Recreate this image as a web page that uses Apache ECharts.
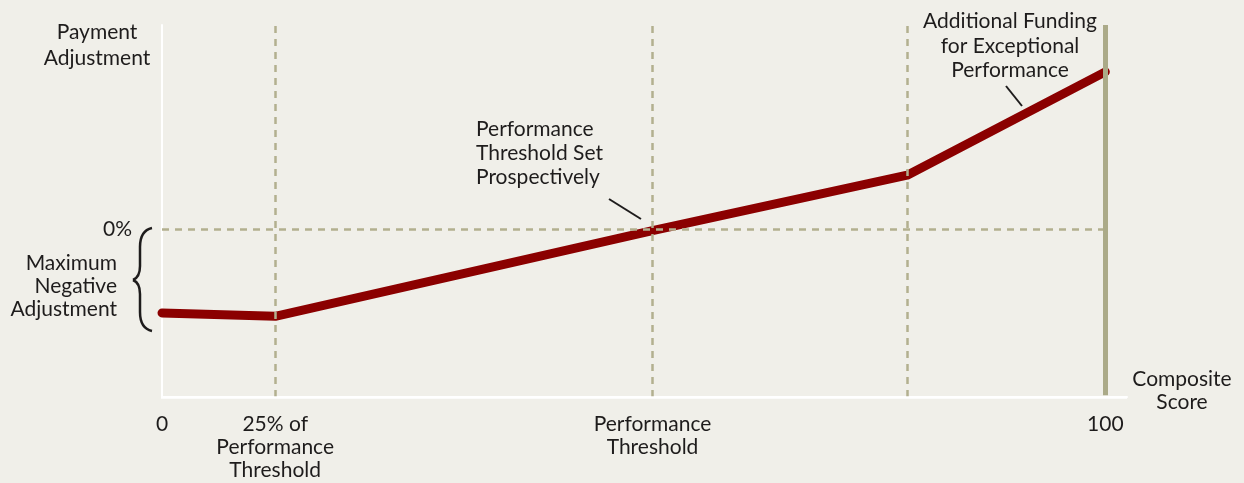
<!DOCTYPE html>
<html>
<head>
<meta charset="utf-8">
<script src="https://cdn.jsdelivr.net/npm/echarts@6/dist/echarts.min.js"></script>
<style>
    html, body { margin: 0; padding: 0; background: #f0efe9; }
    #main { width: 1244px; height: 483px; }
</style>
</head>
<body>
<div id="main"></div>
<script>
    // composite score (x) vs payment adjustment (y, 0 = 0%)
    var scores = [0, 12, 52, 79, 100];
    var adjustments = [-50, -52, -1, 32, 93.5];
    var guideScores = [12, 52, 79];
    var xTickValues = [0, 12, 52, 100];
    var xTickLabels = ['0', '25% of\nPerformance\nThreshold', 'Performance\nThreshold', '100'];
    var yTickValues = [0];
    var yTickLabels = ['0%'];

    var xMax = 102.3, yMin = -100, yMax = 121.4;
    var font = 'Lato, "Open Sans", sans-serif';
    var ink = '#1e1c1c';
    var dashColor = '#b2b08f';

    var chart = echarts.init(document.getElementById('main'));

    var lineData = scores.map(function (s, i) { return [s, adjustments[i]]; });

    var guideLines = guideScores.map(function (s) { return { xAxis: s }; });
    guideLines.push([{ coord: [0, 0] }, { coord: [100, 0] }]);

    // helper for annotation text
    function label(x, y, text, align, lh) {
        return {
            type: 'text', x: x, y: y, z: 10,
            style: { text: text, fill: ink, font: '21px ' + font, align: align, verticalAlign: 'top', lineHeight: lh }
        };
    }
    function curve(x1, y1, cx1, cy1, cx2, cy2, x2, y2) {
        return {
            type: 'bezierCurve', z: 10,
            shape: { x1: x1, y1: y1, cpx1: cx1, cpy1: cy1, cpx2: cx2, cpy2: cy2, x2: x2, y2: y2 },
            style: { stroke: ink, lineWidth: 2.5, fill: null }
        };
    }
    function seg(x1, y1, x2, y2, w, color) {
        return {
            type: 'line', z: 10,
            shape: { x1: x1, y1: y1, x2: x2, y2: y2 },
            style: { stroke: color || ink, lineWidth: w }
        };
    }

    var option = {
        backgroundColor: '#f0efe9',
        animation: false,
        grid: {
            left: 162,
            right: 117,
            top: 25,
            bottom: 86
        },
        xAxis: {
            type: 'value',
            min: 0,
            max: xMax,
            axisLine: { show: true, onZero: false, lineStyle: { color: '#ffffff', width: 2 } },
            axisTick: { show: false },
            splitLine: { show: false },
            axisLabel: {
                customValues: xTickValues,
                margin: 16,
                color: ink,
                fontFamily: font,
                fontSize: 21,
                lineHeight: 23,
                formatter: function (v) {
                    var i = xTickValues.indexOf(v);
                    return i >= 0 ? xTickLabels[i] : '';
                }
            }
        },
        yAxis: {
            type: 'value',
            min: yMin,
            max: yMax,
            axisLine: { show: true, onZero: false, lineStyle: { color: '#ffffff', width: 2 } },
            axisTick: { show: false },
            splitLine: { show: false },
            axisLabel: {
                customValues: yTickValues,
                margin: 30,
                color: ink,
                fontFamily: font,
                fontSize: 21,
                formatter: function (v) {
                    var i = yTickValues.indexOf(v);
                    return i >= 0 ? yTickLabels[i] : '';
                }
            }
        },
        series: [
            {
                // dashed guides
                type: 'line',
                data: [],
                z: 1,
                markLine: {
                    silent: true,
                    symbol: 'none',
                    label: { show: false },
                    lineStyle: { color: dashColor, type: [7, 6], width: 2.5 },
                    data: guideLines
                }
            },
            {
                // 100 marker
                type: 'line',
                data: [],
                z: 2,
                markLine: {
                    silent: true,
                    symbol: 'none',
                    label: { show: false },
                    lineStyle: { color: '#abaa88', type: 'solid', width: 5 },
                    data: [[{ coord: [100, yMin + 1] }, { coord: [100, yMax] }]]
                }
            },
            {
                type: 'line',
                z: 3,
                data: lineData,
                symbol: 'none',
                lineStyle: { color: '#8b0000', width: 9, cap: 'round', join: 'round' }
            }
        ],
        graphic: [
            // white baseline under the plot
            seg(161, 397.5, 1127, 397.5, 2.5, '#ffffff'),
            label(97, 19, 'Payment\nAdjustment', 'center', 26),
            label(117, 252, 'Maximum\nNegative\nAdjustment', 'right', 23),
            label(1182, 368, 'Composite\nScore', 'center', 23),
            label(476, 117, 'Performance\nThreshold Set\nProspectively', 'left', 24),
            label(1010, 9, 'Additional Funding\nfor Exceptional\nPerformance', 'center', 24.5),
            seg(609, 199, 641, 219, 2),
            seg(1006, 86, 1022, 106, 2),
            // brace
            curve(152, 228, 143, 230, 140, 238, 140, 247),
            seg(140, 247, 140, 266, 2.5),
            curve(140, 266, 140, 274, 138, 278, 133, 280),
            curve(133, 280, 138, 282, 140, 286, 140, 294),
            seg(140, 294, 140, 312, 2.5),
            curve(140, 312, 140, 322, 143, 329, 152, 331)
        ]
    };
    chart.setOption(option);
</script>
</body>
</html>
